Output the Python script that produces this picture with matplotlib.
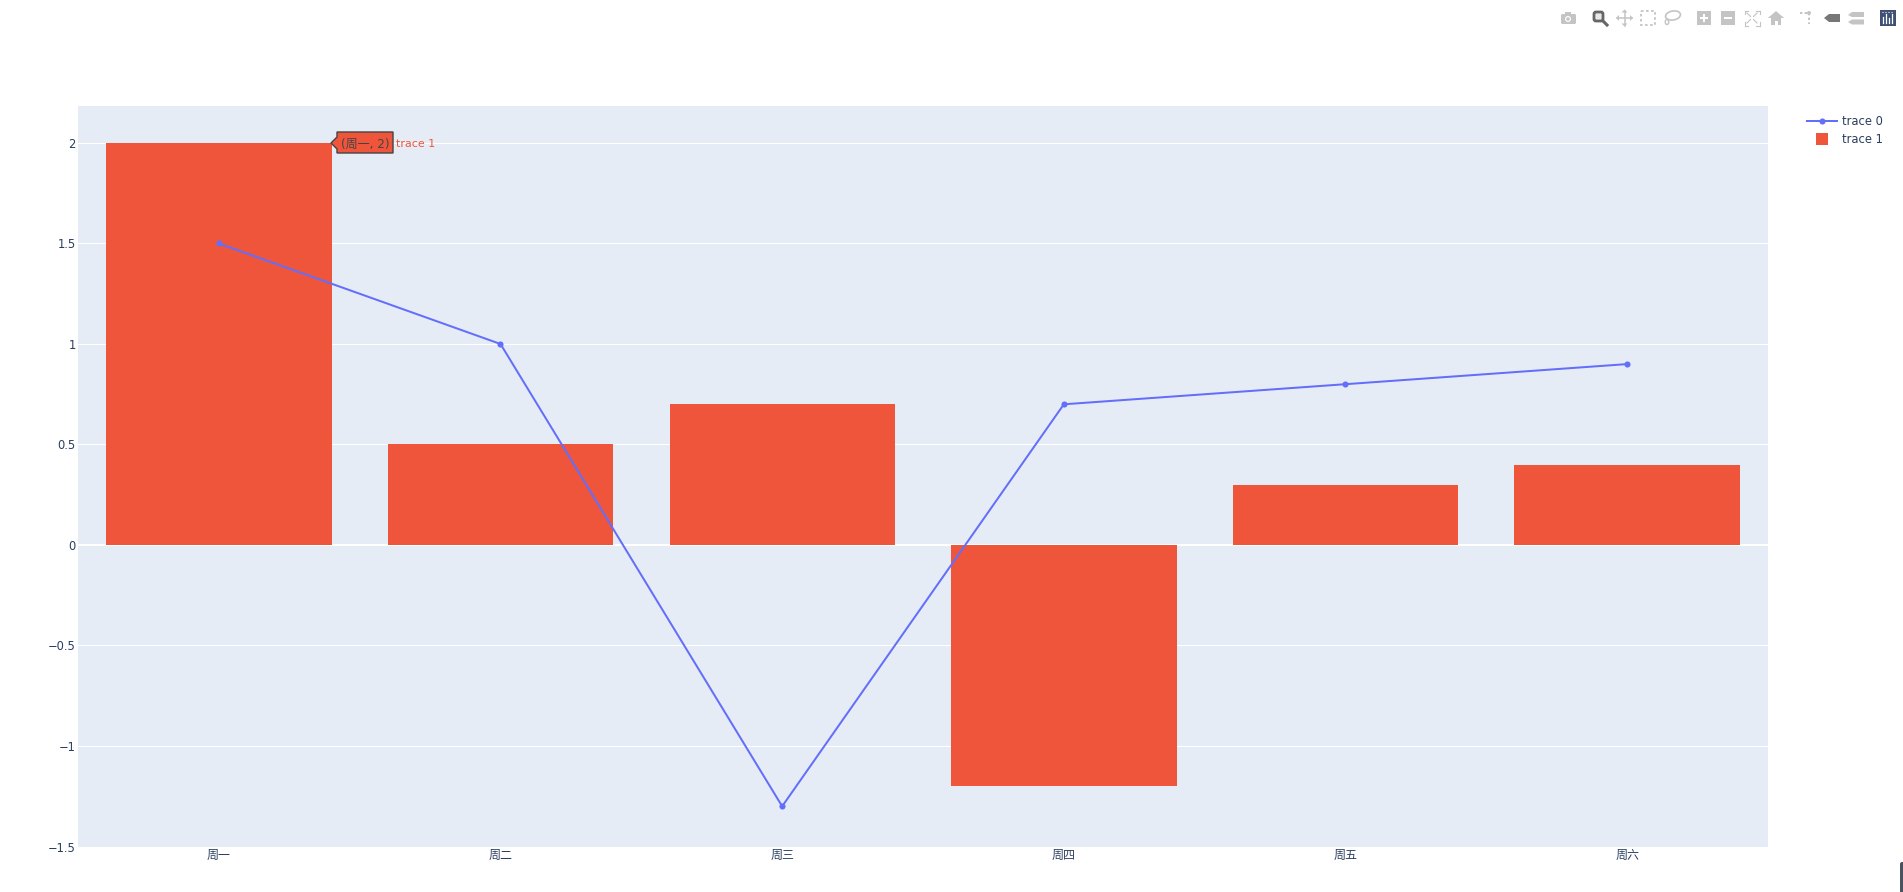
import matplotlib
matplotlib.use("Agg")
import matplotlib.pyplot as plt
from matplotlib.patches import Rectangle, Circle, Polygon, Ellipse, FancyBboxPatch
from matplotlib.lines import Line2D

plt.rcParams['font.family'] = ['DejaVu Sans', 'Noto Sans CJK SC']
plt.rcParams['axes.unicode_minus'] = True

categories = ['周一', '周二', '周三', '周四', '周五', '周六']
line_values = [1.5, 1.0, -1.3, 0.7, 0.8, 0.9]
bar_values = [2.0, 0.5, 0.7, -1.2, 0.3, 0.4]
y_ticks = [-1.5, -1, -0.5, 0, 0.5, 1, 1.5, 2]
y_tick_labels = ['\u22121.5', '\u22121', '\u22120.5', '0', '0.5', '1', '1.5', '2']

W, H = 1903, 892
BLUE, RED, INK, BG = '#636efa', '#ef553b', '#2a3f5f', '#e5ecf6'
FS = 8.3
FS_CJK = 8.64

fig = plt.figure(figsize=(W / 100, H / 100), dpi=100, facecolor='white')
L, R, T, B = 78, 1768, 106, 846.5
ax = fig.add_axes([L / W, 1 - B / H, (R - L) / W, (B - T) / H], facecolor=BG)
ax.set_xlim(-0.5, 5.5)
ax.set_ylim(-1.5, 2.184)
for s in ax.spines.values():
    s.set_visible(False)
ax.set_axisbelow(True)
ax.yaxis.grid(True, color='white', lw=0.72)
ax.xaxis.grid(False)
ax.axhline(0, color='white', lw=1.44, zorder=1.5)
xs = list(range(len(categories)))
bars = ax.bar(xs, bar_values, width=0.8, color=RED, zorder=2, label='trace 1')
line, = ax.plot(xs, line_values, color=BLUE, lw=1.44, marker='o', ms=4.4, mew=0,
                zorder=3, label='trace 0')
ax.set_xticks(xs, categories)
ax.set_yticks(y_ticks, y_tick_labels)
ax.tick_params(axis='both', length=0, labelcolor=INK)
ax.tick_params(axis='x', pad=2.0, labelsize=FS_CJK)
ax.tick_params(axis='y', pad=1.6, labelsize=FS)

square = Line2D([], [], ls='none', marker='s', ms=8.6, mew=0, color=RED)
fig.legend(handles=[line, square],
           labels=['trace 0', 'trace 1'], loc='upper left',
           bbox_to_anchor=(1807 / W, 1 - 115 / H), frameon=False, fontsize=FS,
           labelcolor=INK, handlelength=2.6, handletextpad=0.44, labelspacing=0.46,
           borderpad=0, borderaxespad=0, numpoints=1)

# overlay in pixel coordinates for the viewer furniture
ov = fig.add_axes([0, 0, 1, 1], facecolor='none', zorder=10)
ov.set_xlim(0, W)
ov.set_ylim(H, 0)
ov.axis('off')

# hover label
ov.add_patch(Polygon([(331, 143), (337, 137), (337, 132), (393, 132), (393, 153),
                      (337, 153), (337, 149)], closed=True, fc=RED, ec='#444444', lw=1))
ov.text(341, 144, '(周一, 2)', color='#444444', fontsize=FS_CJK, va='center', ha='left')
ov.text(396, 144, 'trace 1', color=RED, fontsize=7.9, va='center', ha='left')

# mode bar
G = '#c4c4c4'
D = '#777777'
ov.add_patch(FancyBboxPatch((1561, 14), 15, 10, boxstyle='round,pad=0,rounding_size=1.5', fc=G, ec='none'))
ov.add_patch(Rectangle((1565, 12), 6, 3, fc=G, ec='none'))
ov.add_patch(Circle((1568, 19), 3, fc='white', ec='none'))
ov.add_patch(Circle((1568, 19), 1.8, fc=G, ec='none'))
ov.add_patch(FancyBboxPatch((1594, 12), 9, 9, boxstyle='round,pad=0,rounding_size=2', fc='#e8e8e8', ec='#666666', lw=2))
ov.add_line(Line2D([1603, 1607], [21, 25], color='#666666', lw=2.2))
ov.add_line(Line2D([1617, 1632], [18, 18], color=G, lw=1.1))
ov.add_line(Line2D([1624.5, 1624.5], [10.5, 25.5], color=G, lw=1.1))
ov.add_patch(Polygon([(1616, 18), (1619, 15), (1619, 21)], fc=G, ec='none'))
ov.add_patch(Polygon([(1633, 18), (1630, 15), (1630, 21)], fc=G, ec='none'))
ov.add_patch(Polygon([(1624.5, 9.5), (1621.5, 12.5), (1627.5, 12.5)], fc=G, ec='none'))
ov.add_patch(Polygon([(1624.5, 26.5), (1621.5, 23.5), (1627.5, 23.5)], fc=G, ec='none'))
ov.add_patch(Rectangle((1641, 11), 14, 14, fc='none', ec=G, lw=1.3, ls=(0, (1.4, 1.4))))
ov.add_patch(Ellipse((1673, 15.5), 15, 9, angle=-10, fc='none', ec=G, lw=1.2))
ov.add_patch(Ellipse((1667, 22), 3.5, 5, fc='none', ec=G, lw=1))
for cx, glyph in [(1704, 'plus'), (1728, 'minus')]:
    ov.add_patch(Rectangle((cx - 7, 11), 14, 14, fc=G, ec='none'))
    ov.add_patch(Rectangle((cx - 4, 16.8), 8, 2.4, fc='white', ec='none'))
    if glyph == 'plus':
        ov.add_patch(Rectangle((cx - 1.2, 14), 2.4, 8, fc='white', ec='none'))
for sx, sy in [(-1, -1), (1, -1), (-1, 1), (1, 1)]:
    cx, cy = 1752 + sx * 7.5, 18 + sy * 7.5
    ov.add_line(Line2D([cx, cx - sx * 3.5], [cy, cy], color=G, lw=0.8))
    ov.add_line(Line2D([cx, cx], [cy, cy - sy * 3.5], color=G, lw=0.8))
    ov.add_line(Line2D([1752 + sx * 1.5, 1752 + sx * 5], [18 + sy * 1.5, 18 + sy * 5], color=G, lw=0.8))
ov.add_patch(Polygon([(1768, 18), (1776, 11), (1784, 18)], fc=G, ec='none'))
ov.add_patch(Rectangle((1771, 18), 10, 7, fc=G, ec='none'))
ov.add_patch(Rectangle((1775, 21), 2.5, 4, fc='white', ec='none'))
ov.add_line(Line2D([1800, 1809], [13, 13], color=G, lw=1.4, ls=(0, (1.2, 1.2))))
ov.add_line(Line2D([1809, 1809], [13, 24], color=G, lw=1.4, ls=(0, (1.2, 1.2))))
ov.add_patch(Circle((1809, 13), 2, fc=G, ec='none'))
ov.add_patch(Polygon([(1824, 18), (1829, 14), (1840, 14), (1840, 22), (1829, 22)], fc=D, ec='none'))
ov.add_patch(Polygon([(1848, 15), (1852, 12), (1864, 12), (1864, 17), (1852, 17)], fc=G, ec='none'))
ov.add_patch(Polygon([(1848, 22), (1852, 19.5), (1864, 19.5), (1864, 24.5), (1852, 24.5)], fc=G, ec='none'))
ov.add_patch(Rectangle((1880, 10), 16, 16, fc='#3f4f75', ec='none'))
for x, top in zip([1883, 1886, 1889, 1892], [17, 14, 18, 14]):
    ov.add_line(Line2D([x, x], [top, 23], color='white', lw=0.9))
for x in [1883, 1886, 1889, 1892]:
    ov.add_patch(Circle((x, 12.5), 0.6, fc='white', ec='none'))

# clipped element at the lower right of the page
ov.add_patch(FancyBboxPatch((1900, 862), 8, 40, boxstyle='round,pad=0,rounding_size=2', fc='#4a5260', ec='none'))

fig.savefig('out.png', dpi=100, facecolor='white')
